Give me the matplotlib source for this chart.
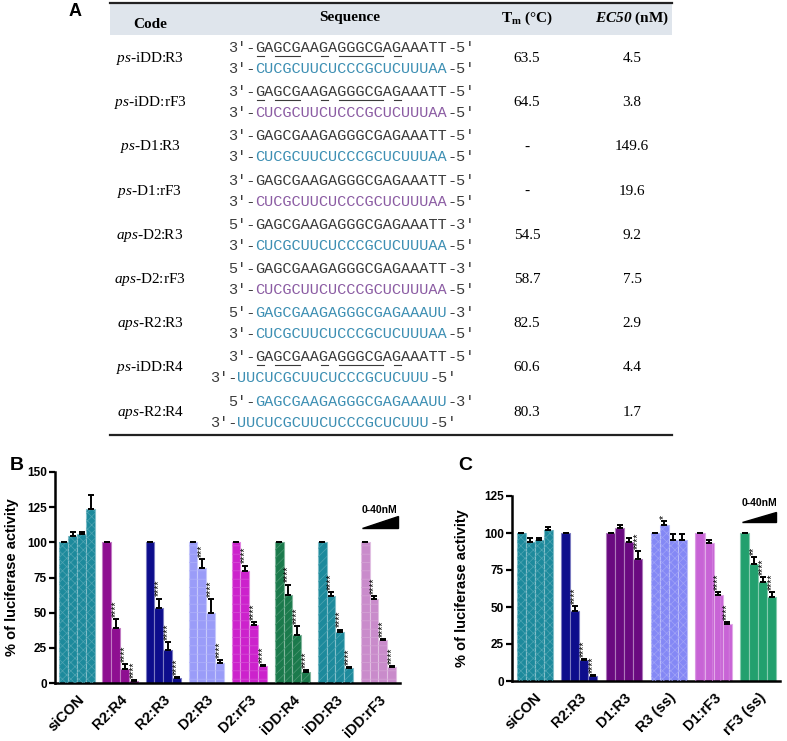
import matplotlib
matplotlib.use("Agg")
import matplotlib.pyplot as plt
from matplotlib.patches import Rectangle, Polygon

plt.rcParams['font.family'] = 'Liberation Sans'
plt.rcParams['mathtext.fontset'] = 'custom'
plt.rcParams['mathtext.rm'] = 'Liberation Serif'
plt.rcParams['mathtext.it'] = 'Liberation Serif:italic'
plt.rcParams['mathtext.bf'] = 'Liberation Serif:bold'
plt.rcParams['mathtext.bfit'] = 'Liberation Serif:bold:italic'
plt.rcParams['hatch.linewidth'] = 0.5

# ---- table (panel A) ----
code_prefix = ['ps', 'ps', 'ps', 'ps', 'aps', 'aps', 'aps', 'ps', 'aps']
code_names = ['iDD:R3', 'iDD:rF3', 'D1:R3', 'D1:rF3', 'D2:R3', 'D2:rF3', 'R2:R3', 'iDD:R4', 'R2:R4']
top_strand = ['iDD', 'iDD', 'D1', 'D1', 'D2', 'D2', 'R2', 'iDD', 'R2']
bottom_strand = ['R3', 'rF3', 'R3', 'rF3', 'R3', 'rF3', 'R3', 'R4', 'R4']
tm_values = ['63.5', '64.5', '-', '-', '54.5', '58.7', '82.5', '60.6', '80.3']
ec50_values = ['4.5', '3.8', '149.6', '19.6', '9.2', '7.5', '2.9', '4.4', '1.7']

# strand: (5'/3' prefix, sequence, suffix, colour, shift in characters)
strands = {
    'iDD': ("3'-", 'GAGCGAAGAGGGCGAGAAATT', "-5'", '#3a3a3a', 0),
    'D1': ("3'-", 'GAGCGAAGAGGGCGAGAAATT', "-5'", '#3a3a3a', 0),
    'D2': ("5'-", 'GAGCGAAGAGGGCGAGAAATT', "-3'", '#3a3a3a', 0),
    'R2': ("5'-", 'GAGCGAAGAGGGCGAGAAAUU', "-3'", '#3d8fb3', 0),
    'R3': ("3'-", 'CUCGCUUCUCCCGCUCUUUAA', "-5'", '#3d8fb3', 0),
    'rF3': ("3'-", 'CUCGCUUCUCCCGCUCUUUAA', "-5'", '#8b5ca3', 0),
    'R4': ("3'-", 'UUCUCGCUUCUCCCGCUCUUU', "-5'", '#3d8fb3', -2),
}
underline_spans = [(0, 0), (2, 4), (7, 7), (9, 13), (15, 15)]

# ---- panel B ----
b_groups = ['siCON', 'R2:R4', 'R2:R3', 'D2:R3', 'D2:rF3', 'iDD:R4', 'iDD:R3', 'iDD:rF3']
b_vals = [[100, 104.5, 106, 124], [100, 39, 10, 1.5], [100, 53.5, 23.5, 3.5],
          [100, 81.5, 49.5, 14], [100, 79.5, 41.5, 12], [100, 62.5, 34, 8],
          [100, 62, 36, 11], [100, 59.5, 30.5, 11.5]]
b_err = [[0, 2.5, 1, 10], [0, 6.5, 3.5, 0.5], [0, 6.5, 5.5, 0.5], [0, 6.5, 10, 2],
         [0, 4, 2, 1], [0, 7.5, 6.5, 1], [0, 2.5, 2, 0.5], [0, 2, 0.5, 0.5]]
b_sig = [['', '', '', ''], ['', '****', '****', '****'], ['', '****', '****', '****'],
         ['', '***', '****', '****'], ['', '****', '****', '****'], ['', '****', '****', '****'],
         ['', '****', '****', '****'], ['', '****', '****', '****']]
b_colors = ['#1d8a9c', '#8e0f91', '#0d0d8c', '#9a9cf8', '#cc22cc', '#1b7a4c', '#1d8a9c', '#c98bcb']
b_hatch = ['xxxx', None, None, '--', '--', '////', '////', '--']

# ---- panel C ----
c_groups = ['siCON', 'R2:R3', 'D1:R3', 'R3 (ss)', 'D1:rF3', 'rF3 (ss)']
c_vals = [[100, 94, 95, 102], [100, 47.5, 14.5, 3.5], [100, 103.5, 94, 82.5],
          [100, 105.5, 95, 95], [100, 93, 58, 38.5], [100, 79, 67, 56.5]]
c_err = [[0, 2.5, 1.5, 2], [0, 3, 0.5, 0.3], [0, 2, 2.5, 5.5],
         [0, 2.5, 4, 4], [0, 2.5, 2, 1.5], [0, 4.5, 3, 3.5]]
c_sig = [['', '', '', ''], ['', '****', '****', '****'], ['', '', '', '****'],
         ['', '*', '', ''], ['', '', '****', '****'], ['', '**', '****', '****']]
c_colors = ['#1d8a9c', '#0d0d8c', '#6a0a80', '#8488f5', '#c864d6', '#22a06e']
c_hatch = ['xxxx', None, None, 'xxxx', '||', None]

W, H = 787, 741
fig = plt.figure(figsize=(W / 100, H / 100), dpi=100)


def lighten(c, f):
    r, g, b = matplotlib.colors.to_rgb(c)
    return (r + (1 - r) * f, g + (1 - g) * f, b + (1 - b) * f)


def bar_panel(ax, groups, vals, errs, sigs, colors, hatches, pitch, ymax, yticks):
    centers = []
    for g, name in enumerate(groups):
        xs = [g * pitch + j + 0.5 for j in range(4)]
        centers.append(g * pitch + 2)
        ax.bar(xs, vals[g], width=1, color=colors[g], edgecolor=lighten(colors[g], 0.45),
               linewidth=0.8, zorder=2)
        if hatches[g]:
            ax.bar(xs, vals[g], width=1, facecolor='none', edgecolor=lighten(colors[g], 0.22),
                   linewidth=0, hatch=hatches[g], zorder=3)
        ax.errorbar(xs, vals[g], yerr=[[0] * 4, errs[g]], fmt='none', ecolor='black',
                    elinewidth=1.4, capsize=2.2, capthick=1.4, zorder=4)
        for j in range(4):
            if sigs[g][j]:
                ax.text(xs[j], vals[g][j] + errs[g][j] + 1.5, sigs[g][j], rotation=90,
                        ha='center', va='bottom', fontsize=7.5)
    ax.set_ylim(0, ymax)
    ax.set_xlim(-0.5, (len(groups) - 1) * pitch + 4.4)
    ax.set_yticks(yticks)
    ax.set_xticks(centers)
    ax.set_xticklabels(groups, rotation=45, ha='right', rotation_mode='anchor',
                       fontsize=10.5, fontweight='bold')
    for lab in ax.get_yticklabels():
        lab.set_fontweight('bold')
    ax.tick_params(axis='y', labelsize=8.5, width=1.6, length=4, pad=2)
    ax.tick_params(axis='x', length=0, pad=7)
    for s in ['top', 'right']:
        ax.spines[s].set_visible(False)
    for s in ['left', 'bottom']:
        ax.spines[s].set_linewidth(1.8)
    ax.set_ylabel('% of luciferase activity', fontsize=10.5, fontweight='bold')


axB = fig.add_axes([55 / W, 1 - 683 / H, 345 / W, 211 / H])
bar_panel(axB, b_groups, b_vals, b_err, b_sig, b_colors, b_hatch, 4.8, 150,
          [0, 25, 50, 75, 100, 125, 150])
axB.yaxis.set_label_coords(-0.105, 0.5)

axC = fig.add_axes([512 / W, 1 - 681 / H, 268 / W, 185 / H])
bar_panel(axC, c_groups, c_vals, c_err, c_sig, c_colors, c_hatch, 4.95, 125,
          [0, 25, 50, 75, 100, 125])
axC.yaxis.set_label_coords(-0.16, 0.5)

# overlay in pixel coordinates for table, labels and wedges
ov = fig.add_axes([0, 0, 1, 1], zorder=5)
ov.set_xlim(0, W)
ov.set_ylim(H, 0)
ov.axis('off')

ov.add_patch(Rectangle((110, 3), 562, 32, facecolor='#dfe5ec', edgecolor='none'))
ov.plot([110, 672], [2.5, 2.5], color='#222222', lw=1.6)
ov.plot([110, 672], [435, 435], color='#222222', lw=1.6)

serif = 'Liberation Serif'
ov.text(150, 25, 'Code', ha='center', va='center', family=serif, fontsize=11, fontweight='bold')
ov.text(350, 18, 'Sequence', ha='center', va='center', family=serif, fontsize=11, fontweight='bold')
ov.text(527, 18, r'$\mathbf{T_m}$ (°C)', ha='center', va='center', family=serif, fontsize=11,
        fontweight='bold')
ov.text(632, 18, r'$\mathbfit{EC50}$ (nM)', ha='center', va='center', family=serif, fontsize=11,
        fontweight='bold')

fs_seq = 11
cw = 0.6 * fs_seq * 100 / 72
x_seq = 228
for i in range(9):
    yc = 58.5 + 44.2 * i
    ov.text(150, yc, r'$\mathit{%s}$-%s' % (code_prefix[i], code_names[i]), ha='center', va='center',
            family=serif, fontsize=11)
    ov.text(527, yc, tm_values[i], ha='center', va='center', family=serif, fontsize=11)
    ov.text(632, yc, ec50_values[i], ha='center', va='center', family=serif, fontsize=11)
    for k, (key, dy) in enumerate([(top_strand[i], -10.5), (bottom_strand[i], 10.5)]):
        pre, seq, suf, col, shift = strands[key]
        x0 = x_seq + shift * cw
        y = yc + dy
        ov.text(x0, y, pre, ha='left', va='center', family='Liberation Mono', fontsize=fs_seq,
                color='#3a3a3a')
        ov.text(x0 + 3 * cw, y, seq, ha='left', va='center', family='Liberation Mono',
                fontsize=fs_seq, color=col)
        ov.text(x0 + (3 + len(seq)) * cw, y, suf, ha='left', va='center', family='Liberation Mono',
                fontsize=fs_seq, color='#3a3a3a')
        if k == 0 and key == 'iDD':
            for a, b in underline_spans:
                ov.plot([x0 + (3 + a) * cw + 1, x0 + (4 + b) * cw - 1], [y + 7.5, y + 7.5],
                        color='#3a3a3a', lw=0.8)

ov.text(75, 12, 'A', ha='center', va='center', fontsize=13, fontweight='bold')
ov.text(17, 465, 'B', ha='center', va='center', fontsize=14, fontweight='bold')
ov.text(465, 465, 'C', ha='center', va='center', fontsize=14, fontweight='bold')

ov.text(380, 510, '0-40nM', ha='center', va='center', fontsize=7.5, fontweight='bold')
ov.add_patch(Polygon([(362, 528), (398, 528), (398, 516)], closed=True, color='black'))
ov.text(760, 503, '0-40nM', ha='center', va='center', fontsize=7.5, fontweight='bold')
ov.add_patch(Polygon([(742, 522), (776, 522), (776, 512)], closed=True, color='black'))

fig.savefig('out.png', dpi=100)
